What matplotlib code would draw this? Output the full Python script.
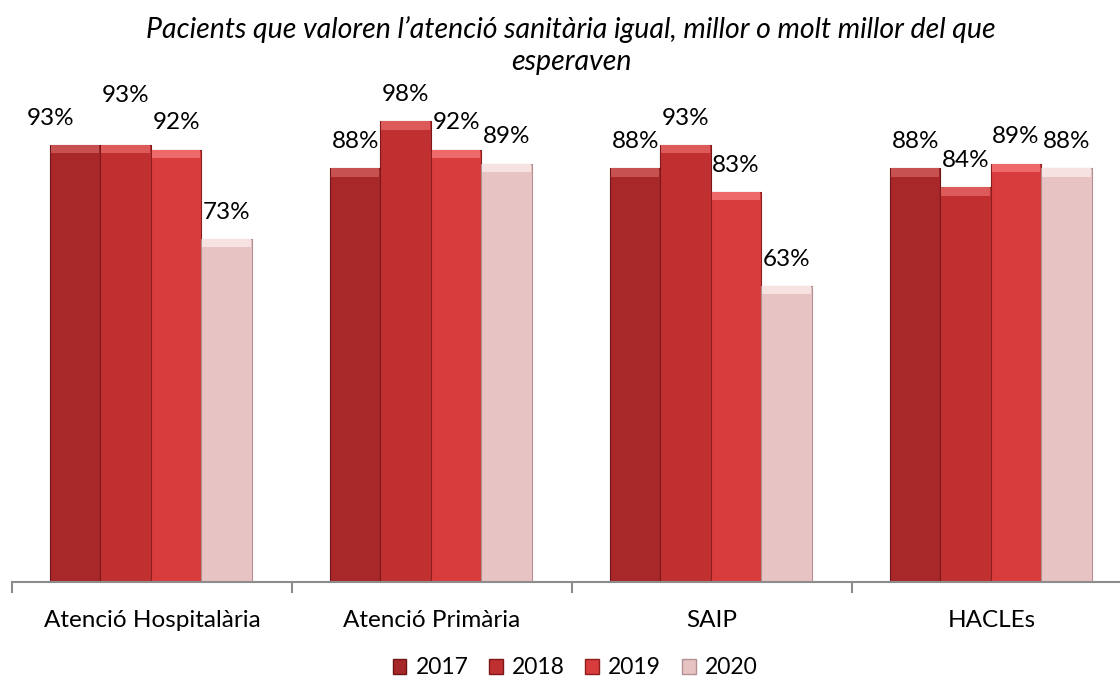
import numpy as np
import matplotlib.pyplot as plt
from matplotlib.patches import Patch

categories = ['Atenció Hospitalària', 'Atenció Primària', 'SAIP', 'HACLEs']
years = ['2017', '2018', '2019', '2020']
v2017 = [0.93, 0.88, 0.88, 0.88]
v2018 = [0.93, 0.98, 0.93, 0.84]
v2019 = [0.92, 0.92, 0.83, 0.89]
v2020 = [0.73, 0.89, 0.63, 0.88]
series = [v2017, v2018, v2019, v2020]

colors = ['#a8282a', '#c03031', '#d83c3c', '#e8c3c4']
tops = ['#c75050', '#dc5a5a', '#ee6a6a', '#f7e2e2']
edges = ['#6e1414', '#7e1818', '#8e1e1e', '#b09090']

plt.rcParams['font.family'] = ['Lato', 'DejaVu Sans']

fig = plt.figure(figsize=(11.2, 6.83), dpi=100)
ax = fig.add_axes([12 / 1120, 101 / 683, 1108 / 1120, 470 / 683])

x = np.arange(len(categories))
w = 0.18
for i, (vals, c, tc, ec) in enumerate(zip(series, colors, tops, edges)):
    pos = x - 0.5 + 0.136 + w * (i + 0.5)
    ax.bar(pos, vals, width=w, color=c, edgecolor=ec, linewidth=0.8, zorder=2)
    # bevel highlight at the top of each bar
    ax.bar(pos, [0.018] * len(vals), bottom=np.array(vals) - 0.018, width=w * 0.96,
           color=tc, linewidth=0, zorder=3)
    for j, v in enumerate(vals):
        dy = 0.057
        dx = 0.0
        if i == 1 and j == 0:
            dy = 0.105
        if i == 0 and j == 0:
            dx = -0.09
        ax.text(pos[j] + dx, v + dy, f'{round(v * 100)}%', ha='center', va='center',
                fontsize=17.5, clip_on=False)

ax.set_yticks([])
for s in ['top', 'right', 'left']:
    ax.spines[s].set_visible(False)
ax.spines['bottom'].set_color('#8c8c8c')
ax.spines['bottom'].set_linewidth(1.5)
ax.set_xticks(x)
ax.set_xticklabels(categories, fontsize=17.5)
ax.tick_params(axis='x', which='major', length=0, pad=20)
ax.set_xticks(np.arange(-0.5, 3.6, 1), minor=True)
ax.tick_params(axis='x', which='minor', length=8, width=1.5, color='#8c8c8c')
ax.set_xlim(-0.5, 3.5 - 12 / 280)
ax.set_ylim(0, 1.0)

fig.text(571 / 1120, 1 - 30 / 683, 'Pacients que valoren l’atenció sanitària igual, millor o molt millor del que',
         ha='center', va='center', fontsize=20.5, style='italic')
fig.text(571 / 1120, 1 - 62 / 683, 'esperaven', ha='center', va='center', fontsize=20.5, style='italic')

handles = [Patch(facecolor=c, edgecolor=ec) for c, ec in zip(colors, edges)]
fig.legend(handles, years, loc='center', bbox_to_anchor=(575 / 1120, 1 - 668 / 683), ncol=4,
           frameon=False, fontsize=16.5, handlelength=0.6, handleheight=0.6,
           handletextpad=0.4, columnspacing=0.9)

fig.savefig('out.png', dpi=100)
